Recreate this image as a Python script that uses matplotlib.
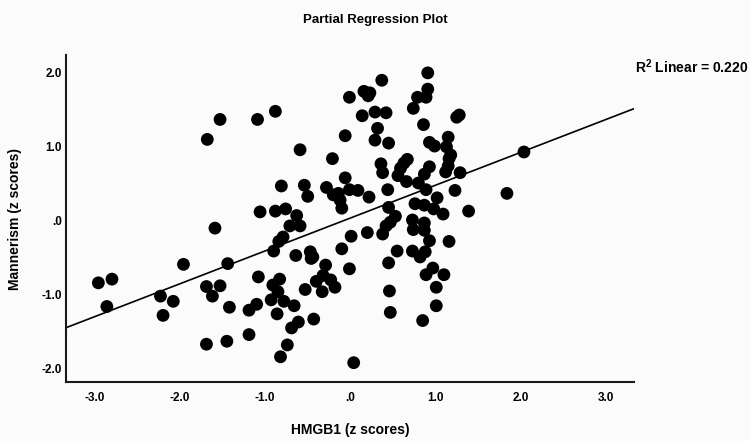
import numpy as np
import matplotlib
matplotlib.use("Agg")
import matplotlib.pyplot as plt

plt.rcParams['font.family'] = ['Liberation Sans', 'DejaVu Sans']
plt.rcParams['mathtext.fontset'] = 'custom'
plt.rcParams['mathtext.rm'] = 'Liberation Sans'
plt.rcParams['mathtext.bf'] = 'Liberation Sans:bold'

# HMGB1 (z scores)
hmgb1 = [
    -2.96, -2.80, -2.86, -2.23, -2.08, -2.20, -1.96, -1.68, -1.53, -1.09,
    -0.88, -0.59, -1.59, -1.69, -1.53, -1.62, -1.44, -1.42, -1.08, -1.19,
    -1.10, -1.19, -1.45, -1.69, -1.06, -0.88, -0.76, -0.63, -0.71, -0.59,
    -0.81, -0.54, -0.50, -0.90, -0.84, -0.79, -0.64, -0.91, -0.83, -0.85,
    -0.78, -0.93, -0.86, -0.66, -0.61, -0.69, -0.74, -0.82, -0.53, -0.43,
    -0.47, -0.46, -0.44, -0.29, -0.32, -0.23, -0.18, -0.33, -0.40, -0.10,
    -0.01, 0.01, 0.20, 0.04, -0.21, -0.06, -0.06, -0.01, 0.14, 0.16,
    0.23, 0.21, 0.29, 0.32, 0.29, 0.37, 0.42, 0.45, -0.28, -0.20,
    -0.14, -0.12, -0.10, -0.01, 0.09, 0.22, 0.36, 0.38, 0.44, 0.56,
    0.59, 0.63, 0.67, 0.66, 0.45, 0.38, 0.42, 0.47, 0.53, 0.91,
    0.91, 0.79, 0.89, 0.74, 0.86, 1.28, 1.25, 0.93, 0.99, 1.15,
    1.13, 1.18, 1.16, 1.15, 1.12, 1.29, 0.93, 0.87, 0.80, 0.89,
    1.23, 1.02, 2.04, 1.84, 0.76, 0.87, 0.98, 1.09, 1.39, 0.73,
    0.74, 0.87, 0.87, 0.93, 1.16, 0.55, 0.45, 0.73, 0.88, 0.82,
    0.97, 0.89, 1.10, 1.01, 0.46, 1.01, 0.47, 0.85,
]

# Mannerism (z scores)
mannerism = [
    -0.84, -0.79, -1.16, -1.02, -1.09, -1.28, -0.59, 1.10, 1.37, 1.37,
    1.48, 0.96, -0.10, -0.89, -0.88, -1.02, -0.58, -1.17, -0.76, -1.21,
    -1.13, -1.54, -1.63, -1.67, 0.12, 0.13, 0.16, 0.07, -0.07, -0.07,
    0.47, 0.48, 0.33, -0.41, -0.28, -0.22, -0.47, -0.87, -0.79, -0.96,
    -1.09, -1.07, -1.26, -1.15, -1.37, -1.45, -1.68, -1.84, -0.93, -1.33,
    -0.42, -0.51, -0.49, -0.60, -0.74, -0.80, -0.90, -0.96, -0.82, -0.38,
    -0.65, -0.21, -0.16, -1.92, 0.84, 1.15, 0.58, 1.67, 1.42, 1.75,
    1.73, 1.69, 1.47, 1.25, 1.09, 1.90, 1.46, 1.05, 0.45, 0.35,
    0.37, 0.28, 0.17, 0.42, 0.41, 0.32, 0.77, 0.65, 0.42, 0.61,
    0.71, 0.78, 0.83, 0.53, 0.18, -0.18, -0.07, -0.02, 0.06, 2.00,
    1.78, 1.67, 1.67, 1.52, 1.30, 1.43, 1.40, 1.06, 1.01, 1.13,
    1.00, 0.89, 0.84, 0.74, 0.66, 0.65, 0.73, 0.63, 0.51, 0.42,
    0.41, 0.31, 0.93, 0.37, 0.23, 0.21, 0.16, 0.09, 0.13, 0.01,
    -0.12, -0.03, -0.13, -0.27, -0.28, -0.41, -0.57, -0.41, -0.42, -0.49,
    -0.64, -0.73, -0.73, -0.90, -0.95, -1.15, -1.24, -1.35,
]

# fitted line as drawn in the plot
fit_slope = 0.444
fit_intercept = 0.036
r2_text = r"$\mathbf{R^{2}}$ Linear = 0.220"

x_ticks = [-3, -2, -1, 0, 1, 2, 3]
x_labels = ["-3.0", "-2.0", "-1.0", ".0", "1.0", "2.0", "3.0"]
y_ticks = [-2, -1, 0, 1, 2]
y_labels = ["-2.0", "-1.0", ".0", "1.0", "2.0"]

bg = '#fbfbfb'
fig = plt.figure(figsize=(7.5, 4.41), dpi=100, facecolor=bg)
ax = fig.add_axes([0.088, 0.134, 0.757, 0.741], facecolor=bg)

ax.scatter(hmgb1, mannerism, s=85, color='black', edgecolors='none', zorder=3)

xlim = (-3.34, 3.33)
xs = np.array(xlim)
ax.plot(xs, fit_slope * xs + fit_intercept, color='black', lw=1.2, zorder=2)

ax.set_xlim(*xlim)
ax.set_ylim(-2.18, 2.24)
ax.set_xticks(x_ticks)
ax.set_xticklabels(x_labels)
ax.set_yticks(y_ticks)
ax.set_yticklabels(y_labels)
ax.tick_params(axis='both', length=0, labelsize=8.5)
ax.tick_params(axis='x', pad=7)
ax.tick_params(axis='y', pad=3)
for lab in ax.get_xticklabels() + ax.get_yticklabels():
    lab.set_fontweight('bold')

for side in ['top', 'right']:
    ax.spines[side].set_visible(False)
for side in ['left', 'bottom']:
    ax.spines[side].set_linewidth(1.5)
    ax.spines[side].set_color('#1a1a1a')

ax.set_xlabel("HMGB1 (z scores)", fontsize=10, fontweight='bold', labelpad=14)
ax.set_ylabel("Mannerism (z scores)", fontsize=10, fontweight='bold', labelpad=14)

fig.text(0.5, 0.955, "Partial Regression Plot", ha='center', va='center',
         fontsize=9.5, fontweight='bold')
fig.text(0.847, 0.848, r2_text, ha='left', va='center', fontsize=10,
         fontweight='bold')

fig.savefig("out.png", dpi=100, facecolor=bg)
